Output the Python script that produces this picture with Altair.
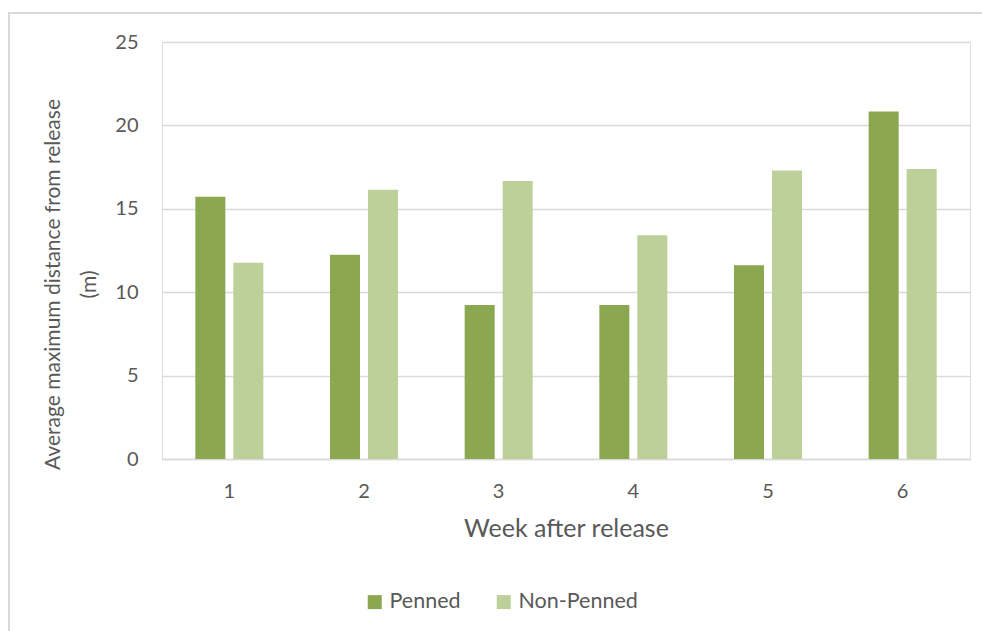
import altair as alt
import pandas as pd

weeks = ["1", "2", "3", "4", "5", "6"]
penned = [15.72, 12.24, 9.24, 9.24, 11.62, 20.84]
non_penned = [11.76, 16.14, 16.66, 13.42, 17.30, 17.38]
groups = ["Penned", "Non-Penned"]
colors = ["#8ba74f", "#bdd09a"]
y_ticks = [0, 5, 10, 15, 20, 25]

rows = []
for w, p, n in zip(weeks, penned, non_penned):
    rows.append({"week": w, "group": groups[0], "value": p})
    rows.append({"week": w, "group": groups[1], "value": n})
df = pd.DataFrame(rows)

FONT = "Lato"
TXT = "#595959"

bars = alt.Chart(df).mark_bar().encode(
    x=alt.X("week:N", sort=weeks,
            scale=alt.Scale(paddingInner=0.495, paddingOuter=0.2475),
            axis=alt.Axis(title="Week after release", labelAngle=0, ticks=False,
                          domainColor="#d9d9d9", domainWidth=1.3,
                          labelFontSize=20, labelColor=TXT, labelFont=FONT,
                          labelPadding=22, titleFontSize=25, titleColor=TXT,
                          titleFont=FONT, titleFontWeight="normal", titlePadding=15)),
    xOffset=alt.XOffset("group:N", sort=groups,
                        scale=alt.Scale(paddingInner=0.21, paddingOuter=0)),
    y=alt.Y("value:Q", scale=alt.Scale(domain=[0, 25], nice=False),
            axis=alt.Axis(title=["Average maximum distance from release", "(m)"],
                          values=y_ticks, ticks=False, domain=False,
                          gridColor="#d9d9d9", gridWidth=1.3,
                          labelFontSize=20, labelColor=TXT, labelFont=FONT,
                          labelPadding=24, titleFontSize=21, titleColor=TXT,
                          titleFont=FONT, titleFontWeight="normal",
                          titleLineHeight=36, titlePadding=15, titleY=242)),
    color=alt.Color("group:N", sort=groups,
                    scale=alt.Scale(domain=groups, range=colors),
                    legend=alt.Legend(title=None, orient="none", direction="horizontal",
                                      legendX=202, legendY=549, symbolType="square",
                                      symbolSize=196, symbolStrokeWidth=0,
                                      labelFontSize=21.5, labelColor=TXT, labelFont=FONT,
                                      labelOffset=4, columnPadding=32, padding=0)),
)

border = alt.Chart(alt.Data(values=[{}])).mark_rect(
    fill=None, stroke="#d9d9d9", strokeWidth=2
).encode(x=alt.value(-153), x2=alt.value(900), y=alt.value(-29), y2=alt.value(700))

chart = alt.layer(border, bars).properties(
    width=808, height=417,
    autosize=alt.AutoSizeParams(type="none"),
    padding={"left": 162, "top": 42, "right": 12, "bottom": 172},
).configure_view(stroke=None).configure(background="white")

chart.save("out.html", embed_options={"renderer": "svg", "actions": False})
